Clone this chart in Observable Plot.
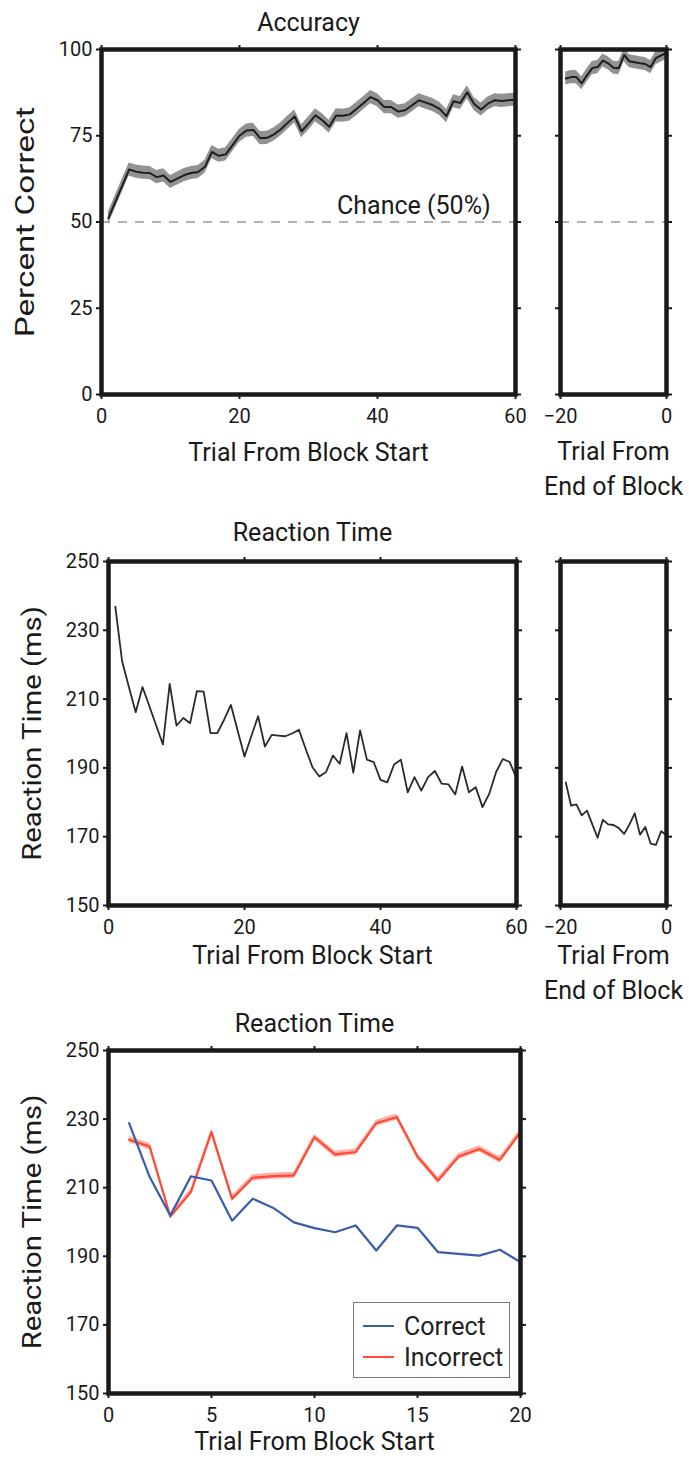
<!DOCTYPE html>
<html>
<head>
<meta charset="utf-8">
<script src="https://cdn.jsdelivr.net/npm/d3@7"></script>
<script src="https://cdn.jsdelivr.net/npm/@observablehq/plot@0.6"></script>
<style>
  body { margin: 0; background: #fff; }
  #fig { position: relative; width: 689px; height: 1462px; font-family: Roboto, sans-serif; color: #222; }
  #fig .panel { position: absolute; }
  #legend { position: absolute; left: 353px; top: 1302px; width: 157px; height: 76px;
            border: 1px solid #777; background: #fff; box-sizing: border-box; }
  #legend .row { position: absolute; left: 9px; height: 30px; display: flex; align-items: center; font-size: 25px; color: #222; }
  #legend .sw { width: 31px; height: 2.5px; margin-right: 10px; }
</style>
</head>
<body>
<div id="fig"></div>
<script>
// Percent correct by trial, counted from the start of a block (trials 1–60)
const accFromStart = [
  51.1, 55.8, 60.5, 65.2, 64.6, 64.3, 64.2, 63.0, 63.5, 61.6,
  62.6, 63.6, 64.2, 64.5, 66.0, 70.3, 69.2, 69.6, 72.3, 75.0,
  76.5, 76.7, 74.3, 74.4, 75.4, 76.9, 78.8, 80.6, 76.3, 78.5,
  80.9, 79.5, 77.6, 80.9, 80.8, 81.2, 82.8, 84.5, 86.2, 85.3,
  83.3, 83.3, 82.0, 82.4, 83.8, 85.3, 84.6, 83.9, 82.8, 80.7,
  85.0, 84.5, 87.6, 84.2, 82.6, 84.3, 85.3, 85.1, 85.3, 85.5
];
// Percent correct by trial, counted back from the end of a block (trials −19…0)
const accFromEnd = [
  91.6, 92.0, 92.0, 90.2, 92.5, 94.6, 94.9, 96.8, 96.0, 94.7,
  94.6, 98.4, 96.6, 96.3, 96.0, 95.8, 94.9, 97.5, 98.3, 99.0
];
const accSem = 1.9;   // half-width of the shaded error band (percentage points)

// Mean reaction time (ms) from block start and from block end
const rtFromStart = [
  236.9, 221.0, 213.5, 206.2, 213.5, 208.0, 202.4, 196.8, 214.4, 202.3,
  204.5, 203.0, 212.3, 212.2, 200.1, 200.1, 204.0, 208.3, 200.8, 193.3,
  199.2, 205.0, 196.2, 199.6, 199.4, 199.2, 200.0, 201.1, 195.5, 190.2,
  187.5, 188.8, 193.6, 191.2, 200.1, 188.6, 200.9, 192.4, 191.7, 186.5,
  185.8, 191.0, 192.4, 182.9, 187.3, 183.4, 187.3, 189.1, 185.4, 185.2,
  182.3, 190.4, 182.9, 184.4, 178.6, 182.5, 188.8, 192.6, 191.7, 187.0
];
const rtFromEnd = [
  185.8, 179.0, 179.4, 176.2, 177.6, 173.6, 169.7, 174.9, 173.6, 173.4,
  172.5, 170.8, 173.5, 176.8, 170.6, 172.8, 168.0, 167.6, 171.6, 170.4
];

// Reaction time (ms) over the first 20 trials, split by response outcome
const rtCorrect = [
  228.8, 213.1, 201.9, 213.3, 212.1, 200.4, 206.8, 204.1, 199.9, 198.2,
  197.0, 199.0, 191.7, 199.0, 198.3, 191.2, 190.7, 190.2, 191.9, 188.3
];
const rtIncorrect = [
  224.0, 222.0, 201.6, 208.7, 226.2, 206.8, 212.9, 213.4, 213.6, 224.7,
  219.7, 220.4, 228.8, 230.6, 219.1, 212.1, 219.1, 221.3, 218.1, 226.2
];
const rtIncorrectSem = 0.9;

// Axis ticks
const accTicks = [0, 25, 50, 75, 100];
const rtTicks = [150, 170, 190, 210, 230, 250];
const startTicks = [0, 20, 40, 60];
const endTicks = [-20, 0];
const shortTicks = [0, 5, 10, 15, 20];
const chance = 50;
const chanceLabelX = 56.4;

// Tables for the marks
const trialsStart = d3.range(1, accFromStart.length + 1);
const trialsEnd = d3.range(-accFromEnd.length + 1, 1);
const accStart = trialsStart.map((t, i) => ({trial: t, acc: accFromStart[i]}));
const accEnd = trialsEnd.map((t, i) => ({trial: t, acc: accFromEnd[i]}));
const rtStart = trialsStart.map((t, i) => ({trial: t, rt: rtFromStart[i]}));
const rtEnd = trialsEnd.map((t, i) => ({trial: t, rt: rtFromEnd[i]}));
const rtSplit = rtCorrect.map((v, i) => ({trial: i + 1, correct: v, incorrect: rtIncorrect[i]}));

const INK = "#1a1a1a";
const FONT = "Roboto, sans-serif";
const LABEL_SIZE = 25;
// Rotated axis titles are drawn stretched along their length
const yTitleStretch = {"Percent Correct": 1.33, "Reaction Time (ms)": 1.17};

// One boxed panel: frame, ticks on all four sides, labels on left/bottom only.
function panel({width, height, margin, xDomain, yDomain, xTicks, yTicks, yLabels = true, marks, texts}) {
  const svg = Plot.plot({
    width, height,
    marginLeft: margin[0], marginTop: margin[1], marginRight: margin[2], marginBottom: margin[3],
    style: {fontFamily: FONT, fontSize: "20px", color: INK, background: "transparent", overflow: "visible"},
    x: {domain: xDomain},
    y: {domain: yDomain},
    marks: [
      ...marks,
      Plot.axisX(xTicks, {anchor: "bottom", tickSize: 5, tickPadding: 9, strokeWidth: 2, label: null, fontSize: 20}),
      Plot.axisX(xTicks, {anchor: "top", tickSize: 5, strokeWidth: 2, tickFormat: () => "", label: null}),
      Plot.axisY(yTicks, {anchor: "left", tickSize: 5, tickPadding: 4, strokeWidth: 2, label: null, fontSize: 20,
                          tickFormat: yLabels ? undefined : () => ""}),
      Plot.axisY(yTicks, {anchor: "right", tickSize: 5, strokeWidth: 2, tickFormat: () => "", label: null}),
      Plot.frame({stroke: INK, strokeWidth: 4.5}),
      ...texts
    ]
  });
  d3.select(svg).selectAll("text")
    .filter(function() { return this.textContent in yTitleStretch; })
    .attr("transform", function() {
      return d3.select(this).attr("transform") + ` scale(${yTitleStretch[this.textContent]},1)`;
    });
  return svg;
}

const label = (s, o) => Plot.text([s], {text: d => d, fontSize: LABEL_SIZE, fill: INK, lineAnchor: "middle", ...o});

function place(node, left, top) {
  node.classList.add("panel");
  node.style.left = left + "px";
  node.style.top = top + "px";
  document.getElementById("fig").appendChild(node);
}

// Accuracy, from block start
place(panel({
  width: 540, height: 500, margin: [101, 49, 25, 106],
  xDomain: [0, 60], yDomain: [0, 100], xTicks: startTicks, yTicks: accTicks,
  marks: [
    Plot.ruleY([chance], {stroke: "#999", strokeWidth: 1.6, strokeDasharray: "9,8"}),
    Plot.areaY(accStart, {x: "trial", y1: d => d.acc - accSem, y2: d => d.acc + accSem, fill: "#929292"}),
    Plot.lineY(accStart, {x: "trial", y: "acc", stroke: "#1e1e1e", strokeWidth: 2})
  ],
  texts: [
    label("Accuracy", {frameAnchor: "top", dy: -27}),
    label("Chance (50%)", {x: [chanceLabelX], y: [chance], textAnchor: "end", dy: -16}),
    label("Trial From Block Start", {frameAnchor: "bottom", dy: 58}),
    label("Percent Correct", {frameAnchor: "left", textAnchor: "middle", rotate: -90, dx: -76})
  ]
}), 0, 0);

// Accuracy, from block end
place(panel({
  width: 149, height: 500, margin: [20, 49, 23, 106],
  xDomain: [-20, 0], yDomain: [0, 100], xTicks: endTicks, yTicks: accTicks, yLabels: false,
  marks: [
    Plot.ruleY([chance], {stroke: "#999", strokeWidth: 1.6, strokeDasharray: "9,8"}),
    Plot.areaY(accEnd, {x: "trial", y1: d => d.acc - accSem, y2: d => d.acc + accSem, fill: "#929292", clip: true}),
    Plot.lineY(accEnd, {x: "trial", y: "acc", stroke: "#1e1e1e", strokeWidth: 2, clip: true})
  ],
  texts: [
    label("Trial From\nEnd of Block", {frameAnchor: "bottom", lineAnchor: "top", dy: 41, lineHeight: 1.4})
  ]
}), 540, 0);

// Reaction time, from block start
place(panel({
  width: 540, height: 500, margin: [108, 61, 24, 95],
  xDomain: [0, 60], yDomain: [150, 250], xTicks: startTicks, yTicks: rtTicks,
  marks: [
    Plot.lineY(rtStart, {x: "trial", y: "rt", stroke: "#2a2a2a", strokeWidth: 1.8})
  ],
  texts: [
    label("Reaction Time", {frameAnchor: "top", dy: -29}),
    label("Trial From Block Start", {frameAnchor: "bottom", dy: 50}),
    label("Reaction Time (ms)", {frameAnchor: "left", textAnchor: "middle", rotate: -90, dx: -76})
  ]
}), 0, 500);

// Reaction time, from block end
place(panel({
  width: 149, height: 500, margin: [20, 61, 23, 95],
  xDomain: [-20, 0], yDomain: [150, 250], xTicks: endTicks, yTicks: rtTicks, yLabels: false,
  marks: [
    Plot.lineY(rtEnd, {x: "trial", y: "rt", stroke: "#2a2a2a", strokeWidth: 1.8})
  ],
  texts: [
    label("Trial From\nEnd of Block", {frameAnchor: "bottom", lineAnchor: "top", dy: 34, lineHeight: 1.4})
  ]
}), 540, 500);

// Reaction time over the first trials, correct vs incorrect responses
place(panel({
  width: 689, height: 462, margin: [108, 50, 169, 69],
  xDomain: [0, 20], yDomain: [150, 250], xTicks: shortTicks, yTicks: rtTicks,
  marks: [
    Plot.areaY(rtSplit, {x: "trial", y1: d => d.incorrect - rtIncorrectSem, y2: d => d.incorrect + rtIncorrectSem, fill: "#ff8f80", fillOpacity: 0.7}),
    Plot.lineY(rtSplit, {x: "trial", y: "incorrect", stroke: "#ff4b36", strokeWidth: 2.2}),
    Plot.lineY(rtSplit, {x: "trial", y: "correct", stroke: "#3a5dab", strokeWidth: 2.2})
  ],
  texts: [
    label("Reaction Time", {frameAnchor: "top", dy: -27}),
    label("Trial From Block Start", {frameAnchor: "bottom", dy: 48}),
    label("Reaction Time (ms)", {frameAnchor: "left", textAnchor: "middle", rotate: -90, dx: -76})
  ]
}), 0, 1000);

// Legend
const legend = document.createElement("div");
legend.id = "legend";
legend.innerHTML =
  '<div class="row" style="top:8px"><span class="sw" style="background:#3a5dab"></span>Correct</div>' +
  '<div class="row" style="top:39px"><span class="sw" style="background:#ff4b36"></span>Incorrect</div>';
document.getElementById("fig").appendChild(legend);
</script>
</body>
</html>
